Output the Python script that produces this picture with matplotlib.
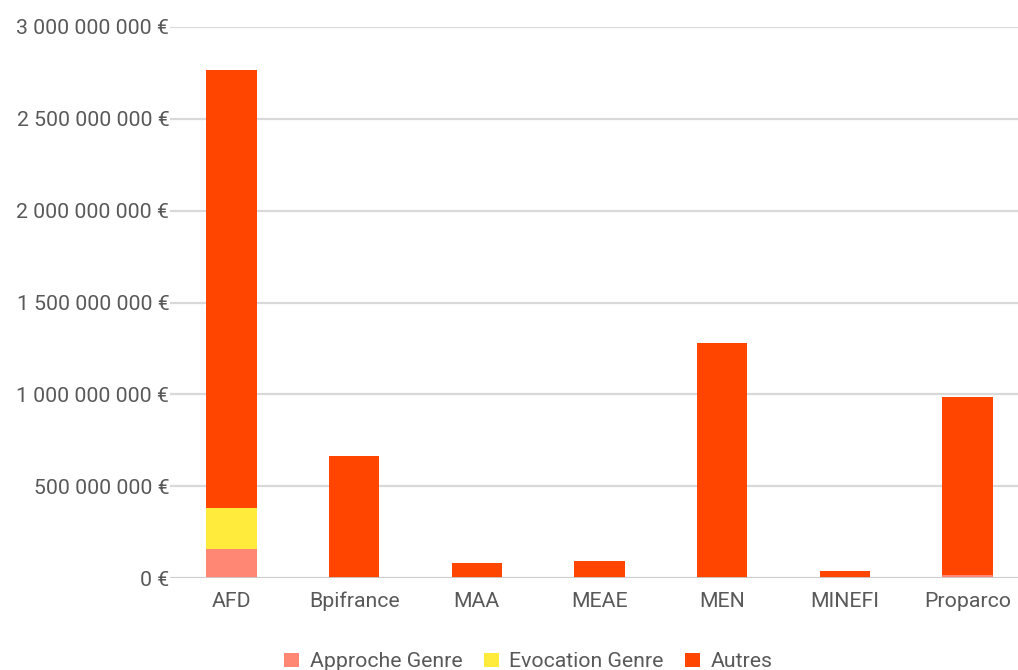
import matplotlib.pyplot as plt
from matplotlib.ticker import FuncFormatter, MultipleLocator
import numpy as np

# Montants par organisme (euros)
categories = ["AFD", "Bpifrance", "MAA", "MEAE", "MEN", "MINEFI", "Proparco"]
approche_genre = [158e6, 0, 0, 0, 0, 0, 14e6]
evocation_genre = [223e6, 0, 0, 0, 0, 0, 4e6]
autres = [2385e6, 663e6, 82e6, 92e6, 1277e6, 38e6, 966e6]

series_names = ["Approche Genre", "Evocation Genre", "Autres"]
colors = ["#FF8774", "#FFEB3B", "#FF4500"]

plt.rcParams['font.family'] = ['Roboto', 'DejaVu Sans']
text_color = '#595959'

fig = plt.figure(figsize=(10.18, 6.7), dpi=100)
ax = fig.add_axes([170 / 1018, 1 - 578 / 670, 859 / 1018, 551 / 670])

x = np.arange(len(categories))
width = 0.41
bottom = np.zeros(len(categories))
for vals, name, col in zip([approche_genre, evocation_genre, autres], series_names, colors):
    ax.bar(x, vals, width, bottom=bottom, color=col, label=name, zorder=3)
    bottom += np.array(vals)


def euro_fmt(v, pos):
    s = "{:,.0f}".format(v).replace(",", " ")
    return s + " €"


ax.set_ylim(0, 3e9)
ax.set_xlim(-0.5, len(categories) - 0.5)
ax.yaxis.set_major_locator(MultipleLocator(5e8))
ax.yaxis.set_major_formatter(FuncFormatter(euro_fmt))
ax.set_xticks(x)
ax.set_xticklabels(categories)

ax.grid(axis='y', color='#d9d9d9', linewidth=1.6, zorder=0)
ax.axhline(0, color='#cccccc', linewidth=2, zorder=4)
for s in ax.spines.values():
    s.set_visible(False)
ax.tick_params(axis='both', length=0, labelsize=15.3, colors=text_color)
ax.tick_params(axis='y', pad=0.5)
ax.tick_params(axis='x', pad=10)

fig.legend(loc='center', bbox_to_anchor=(0.519, 0.012), ncol=3, frameon=False,
           fontsize=15.3, labelcolor=text_color, handlelength=0.7, handleheight=0.7,
           handletextpad=0.5, columnspacing=1.0)

fig.savefig("out.png", dpi=100)
